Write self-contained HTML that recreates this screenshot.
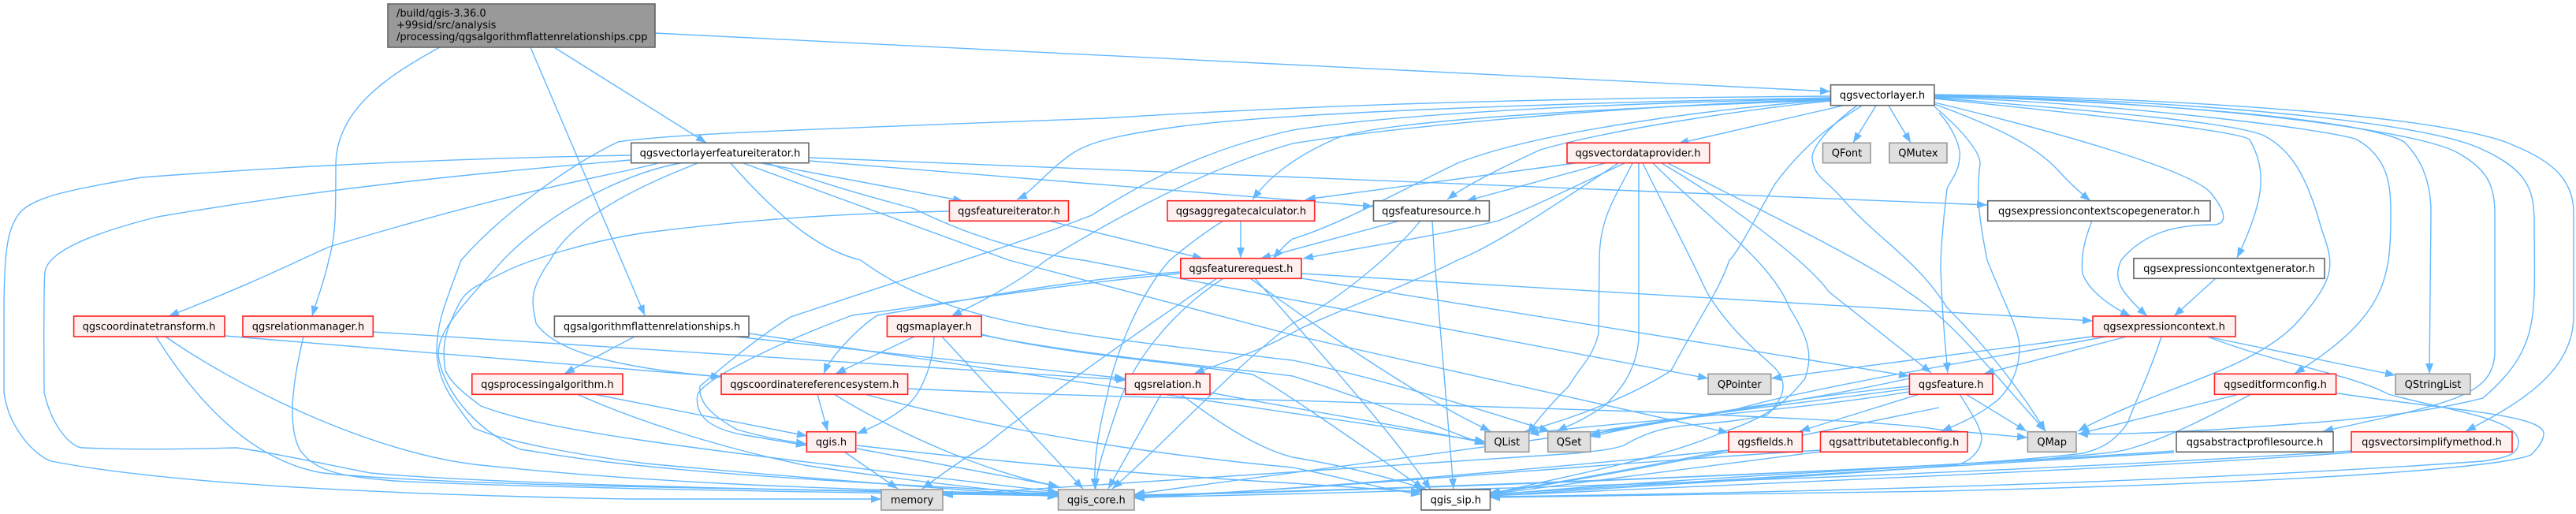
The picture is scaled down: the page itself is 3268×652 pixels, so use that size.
<!DOCTYPE html>
<html><head><meta charset="utf-8"><style>
html,body{margin:0;padding:0;background:#fff;width:3268px;height:652px;overflow:hidden}
svg{display:block}
.e path{fill:none;stroke:#63b8ff;stroke-width:1.4;marker-end:url(#a)}
rect{stroke-width:1.6}
.r{fill:#fff0f0;stroke:#ff2020}
.g{fill:#e0e0e0;stroke:#999}
.w{fill:#fff;stroke:#666}
text{font-family:"DejaVu Sans","Liberation Sans",sans-serif;font-size:13px;fill:#000;text-anchor:middle}
</style></head><body>
<svg width="3268" height="652" viewBox="0 0 3268 652" xmlns="http://www.w3.org/2000/svg">
<defs><marker id="a" markerWidth="14" markerHeight="11" refX="13" refY="5" orient="auto" markerUnits="userSpaceOnUse"><path d="M0 0L13 5L0 10z" fill="#63b8ff"/></marker></defs>
<g class="e">
<!-- root -->
<path d="M558,60C490,97 426,140 426,210C426,270 426,300 417,330C412,355 402,380 396,401"/>
<path d="M673,60L818,400"/>
<path d="M703,60L896,181"/>
<path d="M831,42L2322,116"/>
<!-- vectorlayer left -->
<path d="M2322,122C1900,125 1640,135 1400,150C1000,165 850,170 784,180C722,210 638,270 585,330C565,385 554,407 554,447C556,480 567,500 601,543C640,560 732,577 820,588C1000,605 1200,620 1342,630"/>
<path d="M2322,125C2100,130 1800,140 1640,165C1526,190 1447,233 1385,273C1290,310 1220,330 1003,402C950,435 888,490 888,490C885,515 914,533 935,545C970,555 1000,560 1023,563"/>
<path d="M2322,124C2000,130 1640,142 1500,160C1440,168 1385,177 1360,195C1330,215 1308,245 1290,253"/>
<path d="M2322,127C2100,135 1750,150 1692,177C1640,200 1610,225 1589,253"/>
<path d="M2322,126C2100,132 1797,157 1640,182C1552,207 1447,257 1327,330C1290,360 1240,385 1207,401"/>
<path d="M2322,128C2250,135 2058,160 1954,190C1900,215 1860,235 1836,253"/>
<path d="M2322,127C2200,135 1954,165 1849,207C1780,240 1700,285 1640,303C1630,310 1622,320 1615,328"/>
<path d="M2338,134L2129,182"/>
<path d="M2380,134L2351,181"/>
<path d="M2396,134L2424,181"/>
<path d="M2362,134C2330,155 2294,177 2252,233C2225,280 2205,320 2194,330C2180,370 2163,390 2120,470C2074,500 2000,530 1935,547"/>
<path d="M2356,134C2320,160 2299,187 2299,200C2300,225 2320,230 2340,255C2385,305 2432,330 2470,390C2520,440 2560,490 2595,547"/>
<path d="M2460,143C2480,165 2488,190 2486,200C2485,220 2472,232 2470,240C2465,280 2462,320 2462,340C2464,400 2468,440 2471,473"/>
<path d="M2454,135C2495,170 2512,195 2512,207C2508,240 2508,265 2521,330C2545,390 2562,420 2562,440C2562,480 2540,505 2527,513C2505,530 2480,540 2463,547"/>
<path d="M2454,132C2530,160 2580,183 2610,215C2625,232 2640,245 2652,255"/>
<path d="M2454,130C2600,165 2780,215 2805,245C2825,270 2825,283 2810,285C2760,285 2720,295 2691,330C2680,355 2690,370 2724,401"/>
<path d="M2454,125C2600,140 2840,165 2854,177C2875,215 2875,250 2838,327"/>
<path d="M2454,124C2650,140 2840,155 2874,173C2905,190 2926,220 2945,290C2961,335 2965,350 2916,407C2860,470 2740,490 2636,547"/>
<path d="M2454,123C2700,132 2960,165 2990,177C3030,200 3033,235 3033,270C3033,350 3030,400 2911,474"/>
<path d="M2454,122C2700,128 3000,150 3050,180C3075,205 3084,235 3084,270L3082,474"/>
<path d="M2454,121C2800,130 3070,165 3120,195C3155,215 3165,235 3165,270L3165,450C3160,500 3120,510 2947,547"/>
<path d="M2454,121C2800,128 3080,155 3150,190C3205,215 3215,240 3215,280C3215,400 3225,440 3150,505C3050,530 2950,535 2810,545C2750,548 2680,552 2636,550"/>
<path d="M2454,120C2800,125 3120,150 3190,185C3240,205 3265,230 3265,270L3265,400C3265,470 3200,510 3128,547"/>
<!-- scope / generator / exprctx -->
<path d="M2654,280C2642,310 2640,330 2642,347C2650,370 2680,390 2703,401"/>
<path d="M2811,353L2758,401"/>
<path d="M2654,427L2247,480"/>
<path d="M2698,427L2517,474"/>
<path d="M2672,427C2550,450 2300,490 2200,520C2120,535 2050,545 2017,551"/>
<path d="M2742,427C2725,480 2705,517 2700,535C2680,565 2660,570 2642,575C2500,593 2200,600 1890,628"/>
<path d="M2800,427L3039,476"/>
<path d="M2800,427C2900,465 2978,473 3030,500C3100,520 3195,530 3195,560C3195,575 3185,580 3150,585C2800,610 2300,625 1890,630"/>
<path d="M2841,500L2638,550"/>
<path d="M2856,500C2800,530 2750,555 2709,567C2680,577 2650,575 2600,582C2300,600 1800,620 1439,628"/>
<path d="M2960,498C3100,520 3227,525 3227,550C3227,560 3218,570 3211,577C3180,590 3000,610 2460,623L1890,631"/>
<path d="M2494,500L2571,547"/>
<path d="M2486,500C2505,530 2514,545 2514,557C2512,575 2495,588 2480,590C2300,605 2100,615 1890,629"/>
<path d="M2435,500L2283,547"/>
<path d="M2422,493C2300,510 2100,530 2017,552"/>
<path d="M2422,497C2250,525 2050,535 1939,550"/>
<path d="M2422,490C2270,505 2100,535 2017,554"/>
<!-- iterator -->
<path d="M1026,200L2521,260"/>
<path d="M1026,204L1742,262"/>
<path d="M966,207L1222,255"/>
<path d="M974,207C1060,240 1134,257 1160,265C1186,277 1260,315 1374,330L2167,480"/>
<path d="M943,207L1280,330L1640,425L2193,549"/>
<path d="M927,207C1000,290 1050,320 1092,330C1200,410 1343,423 1640,457C1750,480 1880,520 1966,547"/>
<path d="M864,207C800,217 700,265 638,330C580,395 556,420 556,450C560,490 600,545 660,570C730,580 800,600 1342,625"/>
<path d="M885,207C840,225 732,267 698,330C670,370 675,383 680,410C700,440 760,465 915,478"/>
<path d="M835,207C780,222 669,237 418,313C379,330 320,360 214,401"/>
<path d="M800,197C620,200 418,207 180,225C90,240 42,250 25,270C10,290 5,313 5,400L5,497C10,540 42,577 65,585C209,613 470,627 800,633L1118,633"/>
<path d="M800,203C600,220 418,238 200,275C100,300 60,323 57,345C55,363 56,497 56,497C65,540 90,568 105,568C200,572 288,568 300,568C350,575 418,590 470,600C600,612 900,620 1342,628"/>
<!-- featureiterator -->
<path d="M1204,268C1100,270 977,275 820,295C750,305 669,330 640,345C600,365 591,367 580,390C565,420 560,437 565,470C575,490 591,500 610,515C690,545 820,563 1342,624"/>
<path d="M1330,280L1526,328"/>
<!-- aggregate -->
<path d="M1574,280L1574,327"/>
<path d="M1552,280C1520,300 1490,325 1484,330C1440,380 1411,463 1405,500C1390,560 1388,590 1389,620"/>
<path d="M1776,280L1599,328"/>
<path d="M1802,280C1770,320 1700,380 1640,410C1560,470 1480,560 1411,620"/>
<path d="M1817,280L1820,330L1844,620"/>
<!-- dataprovider -->
<path d="M1998,207L1656,253"/>
<path d="M2036,207L1860,255"/>
<path d="M2061,207C1990,240 1950,260 1901,280C1820,300 1720,315 1653,328"/>
<path d="M2053,207C1980,255 1900,310 1849,330C1780,365 1680,400 1640,422C1600,445 1550,460 1515,474"/>
<path d="M2071,207C2050,250 2029,275 2029,330L2028,423C2020,455 2006,463 1990,490C1960,520 1945,540 1938,550"/>
<path d="M2079,207L2079,430C2075,480 2043,507 2035,515C2005,535 1990,540 1975,547"/>
<path d="M2084,207C2110,260 2147,330 2165,370C2195,420 2231,447 2250,465C2265,480 2270,500 2241,527C2150,545 2120,530 2060,565C2040,572 2010,573 2000,575C1640,597 1400,615 1196,628"/>
<path d="M2097,207C2170,280 2246,330 2270,390C2295,430 2300,450 2290,480C2267,510 2240,530 2189,547C2100,585 2000,600 1890,627"/>
<path d="M2108,207C2190,255 2291,330 2320,370L2450,473"/>
<path d="M2116,207C2200,250 2367,330 2420,370C2460,395 2500,440 2527,470L2595,547"/>
<!-- featurerequest -->
<path d="M1651,347L2655,407"/>
<path d="M1651,353L2422,477"/>
<path d="M1497,347C1350,360 1200,385 1081,400C1000,430 898,477 885,500C880,530 905,545 945,552L1023,565"/>
<path d="M1497,345C1350,355 1230,380 1113,400C1090,415 1055,450 1045,474"/>
<path d="M1544,353C1430,430 1291,530 1250,565C1210,590 1190,605 1170,620"/>
<path d="M1552,353C1480,400 1437,463 1420,510C1400,570 1390,600 1390,620"/>
<path d="M1586,353C1650,400 1790,500 1891,547"/>
<path d="M1592,353C1650,420 1760,540 1815,621"/>
<!-- maplayer -->
<path d="M1160,427L1060,474"/>
<path d="M1185,427C1183,470 1165,503 1150,515C1125,535 1100,545 1087,550"/>
<path d="M1195,427L1374,620"/>
<path d="M1245,424C1350,450 1500,460 1589,475C1620,490 1720,560 1806,620"/>
<path d="M1245,425C1400,455 1550,465 1640,477C1730,505 1820,540 1884,564"/>
<!-- crs / relation / misc -->
<path d="M1037,500L1050,547"/>
<path d="M1058,500C1130,545 1250,600 1343,617"/>
<path d="M1097,500C1300,555 1500,580 1640,593C1700,605 1750,620 1803,627"/>
<path d="M1151,493C1350,502 1500,505 1640,508C1850,515 2000,520 2110,523C2250,530 2400,535 2460,545L2572,555"/>
<path d="M1473,500L1406,620"/>
<path d="M1498,500C1550,540 1600,570 1640,580C1700,590 1760,605 1810,621"/>
<path d="M1535,498C1650,520 1780,540 1884,562"/>
<path d="M285,426L915,478"/>
<path d="M473,421L1429,482"/>
<path d="M932,427L1427,480"/>
<path d="M950,423L1884,560"/>
<path d="M805,427L716,474"/>
<path d="M753,500L1024,553"/>
<path d="M732,500C800,530 900,565 1020,590C1150,610 1250,620 1342,630"/>
<path d="M198,427C250,510 320,585 410,600C550,615 900,620 1342,626"/>
<path d="M210,427C300,490 470,575 610,590C800,610 1000,620 1342,627"/>
<path d="M385,427C370,490 365,540 380,570C400,600 440,605 500,610C700,620 1100,625 1342,629"/>
<path d="M1071,573L1139,620"/>
<path d="M1087,569L1343,617"/>
<path d="M1087,565C1300,590 1500,605 1640,613L1803,624"/>
<!-- to qgis_core / qgis_sip -->
<path d="M2193,571C1900,600 1650,620 1439,632"/>
<path d="M2193,573C2100,590 2000,610 1890,626"/>
<path d="M2309,573L1890,627"/>
<path d="M2309,571C2000,590 1700,620 1439,630"/>
<path d="M2758,572C2500,590 2000,615 1439,629"/>
<path d="M2758,574C2500,590 2200,610 1890,627"/>
<path d="M2983,572C2700,590 2200,615 1439,631"/>
<path d="M2983,574C2700,595 2300,610 1890,629"/>
<path d="M2422,480C2200,530 1700,590 1439,627"/>
<path d="M2460,517C2200,570 2000,610 1890,625"/>
</g>
<rect class="r" x="93.6" y="401" width="191.4" height="26"/><text x="189" y="418.5">qgscoordinatetransform.h</text>
<rect class="r" x="308" y="401" width="165.3" height="26"/><text x="391" y="418.5">qgsrelationmanager.h</text>
<rect class="w" x="703.4" y="401" width="246.6" height="26"/><text x="827" y="418.5">qgsalgorithmflattenrelationships.h</text>
<rect class="r" x="1125.4" y="401" width="119.8" height="26"/><text x="1185" y="418.5">qgsmaplayer.h</text>
<rect class="r" x="2655" y="401" width="181" height="26"/><text x="2745.5" y="418.5">qgsexpressioncontext.h</text>

<rect fill="#999" stroke="#666" x="492" y="5" width="339" height="55" style="stroke-width:1.6"/>
<text x="503" y="21" style="text-anchor:start">/build/qgis-3.36.0</text>
<text x="503" y="36" style="text-anchor:start">+99sid/src/analysis</text>
<text x="503" y="51" style="text-anchor:start">/processing/qgsalgorithmflattenrelationships.cpp</text>

<rect class="w" x="2322.5" y="107.7" width="131.5" height="26"/><text x="2388" y="125">qgsvectorlayer.h</text>

<rect class="w" x="800.7" y="181.3" width="225.3" height="25.4"/><text x="913.5" y="198.5">qgsvectorlayerfeatureiterator.h</text>
<rect class="r" x="1988" y="181.3" width="180.7" height="25.4"/><text x="2078" y="198.5">qgsvectordataprovider.h</text>
<rect class="g" x="2312.5" y="181.3" width="60.5" height="25.4"/><text x="2343" y="198.5">QFont</text>
<rect class="g" x="2396.8" y="181.3" width="73.2" height="25.4"/><text x="2433.4" y="198.5">QMutex</text>

<rect class="r" x="1204.4" y="254.7" width="151.1" height="25.6"/><text x="1280" y="272">qgsfeatureiterator.h</text>
<rect class="r" x="1481" y="254.7" width="186.7" height="25.6"/><text x="1574.4" y="272">qgsaggregatecalculator.h</text>
<rect class="w" x="1742.5" y="254.7" width="146.9" height="25.6"/><text x="1816" y="272">qgsfeaturesource.h</text>
<rect class="w" x="2521.7" y="254.7" width="282.3" height="25.6"/><text x="2663" y="272">qgsexpressioncontextscopegenerator.h</text>

<rect class="r" x="1497.8" y="327.7" width="153.2" height="25.6"/><text x="1574.4" y="345">qgsfeaturerequest.h</text>
<rect class="w" x="2706.9" y="327.7" width="242.1" height="25.6"/><text x="2828" y="345">qgsexpressioncontextgenerator.h</text>

<rect class="r" x="598.8" y="474.3" width="191.2" height="26"/><text x="694.4" y="491.8">qgsprocessingalgorithm.h</text>
<rect class="r" x="915" y="474.3" width="236.6" height="26"/><text x="1033.3" y="491.8">qgscoordinatereferencesystem.h</text>
<rect class="r" x="1427.7" y="474.3" width="107.3" height="26"/><text x="1481.4" y="491.8">qgsrelation.h</text>
<rect class="g" x="2167" y="474.3" width="79.7" height="26"/><text x="2206.8" y="491.8">QPointer</text>
<rect class="r" x="2422.4" y="474.3" width="105.6" height="26"/><text x="2475.2" y="491.8">qgsfeature.h</text>
<rect class="r" x="2809.4" y="474.3" width="154.2" height="26"/><text x="2886.5" y="491.8">qgseditformconfig.h</text>
<rect class="g" x="3039" y="474.3" width="95" height="26"/><text x="3086.5" y="491.8">QStringList</text>

<rect class="r" x="1023.4" y="547.7" width="62.3" height="25.6"/><text x="1054.5" y="565">qgis.h</text>
<rect class="g" x="1884" y="547.7" width="55.7" height="25.6"/><text x="1911.8" y="565">QList</text>
<rect class="g" x="1963.7" y="547.7" width="53.9" height="25.6"/><text x="1990.6" y="565">QSet</text>
<rect class="r" x="2193" y="547.7" width="93.4" height="25.6"/><text x="2239.7" y="565">qgsfields.h</text>
<rect class="r" x="2309.5" y="547.7" width="186.5" height="25.6"/><text x="2402.8" y="565">qgsattributetableconfig.h</text>
<rect class="g" x="2572.4" y="547.7" width="61.6" height="25.6"/><text x="2603.2" y="565">QMap</text>
<rect class="w" x="2761" y="547.7" width="199" height="25.6"/><text x="2860.5" y="565">qgsabstractprofilesource.h</text>
<rect class="r" x="2983" y="547.7" width="204" height="25.6"/><text x="3085" y="565">qgsvectorsimplifymethod.h</text>

<rect class="g" x="1118" y="621" width="78" height="26"/><text x="1157" y="638.5">memory</text>
<rect class="g" x="1342.5" y="621" width="96.5" height="26"/><text x="1390.8" y="638.5">qgis_core.h</text>
<rect class="w" x="1803" y="621" width="87.5" height="26"/><text x="1846.8" y="638.5">qgis_sip.h</text>
</svg>
</body></html>
